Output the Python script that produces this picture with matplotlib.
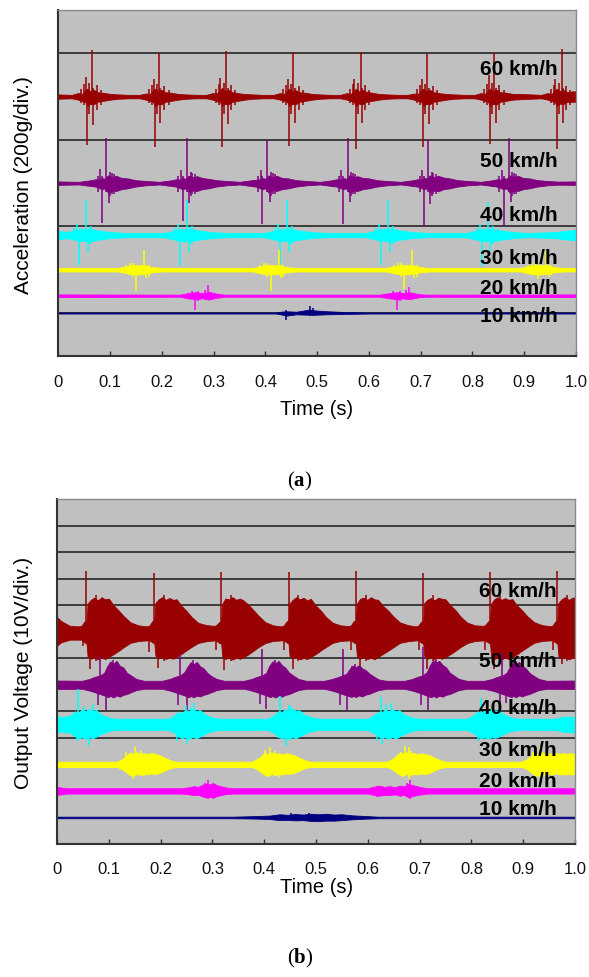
import matplotlib
matplotlib.use("Agg")
import matplotlib.pyplot as plt
import matplotlib.transforms as mtransforms
import numpy as np

plt.rcParams['font.family'] = ['Liberation Sans', 'DejaVu Sans']
plt.rcParams['mathtext.fontset'] = 'custom'
plt.rcParams['mathtext.rm'] = 'Liberation Serif'
plt.rcParams['mathtext.bf'] = 'Liberation Serif:bold'

# ---------------- shared text / ticks ----------------
TIME_TICKS = [0.0, 0.1, 0.2, 0.3, 0.4, 0.5, 0.6, 0.7, 0.8, 0.9, 1.0]
TIME_TICK_LABELS = ['0', '0.1', '0.2', '0.3', '0.4', '0.5', '0.6', '0.7', '0.8', '0.9', '1.0']
SPEED_LABELS = ['60 km/h', '50 km/h', '40 km/h', '30 km/h', '20 km/h', '10 km/h']
X_LABEL = 'Time (s)'
Y_LABEL_A = 'Acceleration (200g/div.)'
Y_LABEL_B = 'Output Voltage (10V/div.)'

# ---------------- panel (a): acceleration, values in divisions ----------------
# envelope keypoints: time, half-width above, half-width below; spikes: time, up, down
ACC_RED_T = [0.000,
             0.026, 0.038, 0.046, 0.052, 0.056, 0.062, 0.068, 0.076, 0.086, 0.101, 0.116, 0.136,
             0.157, 0.169, 0.177, 0.183, 0.187, 0.193, 0.199, 0.207, 0.217, 0.232, 0.247, 0.267,
             0.286, 0.298, 0.306, 0.312, 0.316, 0.322, 0.328, 0.336, 0.346, 0.361, 0.376, 0.396,
             0.416, 0.428, 0.436, 0.442, 0.446, 0.452, 0.458, 0.466, 0.476, 0.491, 0.506, 0.526,
             0.545, 0.557, 0.565, 0.571, 0.575, 0.581, 0.587, 0.595, 0.605, 0.620, 0.635, 0.655,
             0.675, 0.687, 0.695, 0.701, 0.705, 0.711, 0.717, 0.725, 0.735, 0.750, 0.765, 0.785,
             0.804, 0.816, 0.824, 0.830, 0.834, 0.840, 0.846, 0.854, 0.864, 0.879, 0.894, 0.914,
             0.933, 0.945, 0.953, 0.959, 0.963, 0.969, 0.975, 0.983, 0.993, 1.000]
ACC_RED_UP = [0.025,
              0.02, 0.04, 0.03, 0.07, 0.09, 0.06, 0.08, 0.05, 0.045, 0.03, 0.025, 0.02,
              0.02, 0.035, 0.03, 0.07, 0.09, 0.055, 0.08, 0.05, 0.045, 0.03, 0.025, 0.02,
              0.02, 0.04, 0.035, 0.07, 0.10, 0.06, 0.08, 0.05, 0.04, 0.03, 0.025, 0.02,
              0.02, 0.04, 0.03, 0.065, 0.09, 0.06, 0.075, 0.05, 0.045, 0.03, 0.025, 0.02,
              0.02, 0.04, 0.03, 0.07, 0.09, 0.06, 0.08, 0.055, 0.045, 0.03, 0.025, 0.02,
              0.02, 0.035, 0.03, 0.07, 0.09, 0.06, 0.08, 0.05, 0.04, 0.03, 0.025, 0.02,
              0.02, 0.04, 0.03, 0.07, 0.09, 0.06, 0.08, 0.05, 0.045, 0.03, 0.03, 0.025,
              0.02, 0.04, 0.03, 0.07, 0.09, 0.06, 0.08, 0.05, 0.06, 0.06]
ACC_RED_DN = [0.025,
              0.02, 0.035, 0.05, 0.06, 0.11, 0.08, 0.09, 0.06, 0.05, 0.035, 0.025, 0.02,
              0.02, 0.035, 0.05, 0.06, 0.11, 0.08, 0.09, 0.06, 0.05, 0.035, 0.025, 0.02,
              0.02, 0.035, 0.05, 0.06, 0.11, 0.08, 0.09, 0.06, 0.05, 0.035, 0.025, 0.02,
              0.02, 0.035, 0.05, 0.06, 0.11, 0.08, 0.09, 0.06, 0.05, 0.035, 0.025, 0.02,
              0.02, 0.035, 0.05, 0.06, 0.11, 0.08, 0.09, 0.06, 0.05, 0.035, 0.025, 0.02,
              0.02, 0.035, 0.05, 0.06, 0.11, 0.08, 0.09, 0.06, 0.05, 0.035, 0.025, 0.02,
              0.02, 0.035, 0.05, 0.06, 0.11, 0.08, 0.09, 0.06, 0.05, 0.035, 0.03, 0.025,
              0.02, 0.035, 0.05, 0.06, 0.11, 0.08, 0.09, 0.06, 0.06, 0.06]
ACC_RED_SPK_T = [0.044, 0.050, 0.053, 0.056, 0.060, 0.0645, 0.0675, 0.074, 0.082,
                 0.175, 0.181, 0.184, 0.187, 0.190, 0.194, 0.197, 0.205, 0.213,
                 0.304, 0.310, 0.313, 0.316, 0.320, 0.324, 0.327, 0.334, 0.342,
                 0.434, 0.440, 0.443, 0.446, 0.450, 0.454, 0.457, 0.464, 0.472,
                 0.563, 0.569, 0.572, 0.575, 0.579, 0.584, 0.587, 0.593, 0.601,
                 0.693, 0.699, 0.702, 0.705, 0.709, 0.713, 0.716, 0.723, 0.731,
                 0.822, 0.828, 0.831, 0.834, 0.838, 0.842, 0.845, 0.852, 0.860,
                 0.951, 0.957, 0.960, 0.963, 0.967, 0.972, 0.975, 0.981, 0.989]
ACC_RED_SPK_HI = [0.09, 0.14, 0.23, 0.08, 0.16, 0.54, 0.10, 0.13, 0.08,
                  0.09, 0.13, 0.20, 0.08, 0.15, 0.50, 0.10, 0.12, 0.08,
                  0.09, 0.14, 0.22, 0.08, 0.16, 0.53, 0.10, 0.13, 0.08,
                  0.09, 0.13, 0.20, 0.08, 0.15, 0.52, 0.10, 0.12, 0.08,
                  0.09, 0.14, 0.20, 0.08, 0.16, 0.51, 0.10, 0.13, 0.08,
                  0.09, 0.13, 0.20, 0.08, 0.15, 0.49, 0.10, 0.12, 0.08,
                  0.09, 0.14, 0.25, 0.08, 0.16, 0.50, 0.10, 0.13, 0.08,
                  0.09, 0.13, 0.20, 0.08, 0.16, 0.55, 0.10, 0.12, 0.08]
ACC_RED_SPK_LO = [0.07, 0.10, 0.06, 0.56, 0.20, 0.10, 0.33, 0.16, 0.10,
                  0.07, 0.10, 0.06, 0.58, 0.20, 0.10, 0.30, 0.16, 0.10,
                  0.07, 0.10, 0.06, 0.58, 0.20, 0.10, 0.32, 0.16, 0.10,
                  0.07, 0.10, 0.06, 0.57, 0.20, 0.10, 0.30, 0.16, 0.10,
                  0.07, 0.10, 0.06, 0.60, 0.20, 0.10, 0.30, 0.16, 0.10,
                  0.07, 0.10, 0.06, 0.58, 0.20, 0.10, 0.32, 0.16, 0.10,
                  0.07, 0.10, 0.06, 0.55, 0.20, 0.10, 0.30, 0.16, 0.10,
                  0.07, 0.10, 0.06, 0.60, 0.20, 0.10, 0.30, 0.16, 0.10]

ACC_PUR_T = [0.000,
             0.039, 0.059, 0.072, 0.080, 0.084, 0.090, 0.096, 0.104, 0.112, 0.122, 0.134, 0.149, 0.169, 0.189,
             0.195, 0.215, 0.228, 0.236, 0.240, 0.246, 0.252, 0.260, 0.268, 0.278, 0.290, 0.305, 0.325, 0.345,
             0.349, 0.369, 0.382, 0.390, 0.394, 0.400, 0.406, 0.414, 0.422, 0.432, 0.444, 0.459, 0.479, 0.499,
             0.505, 0.525, 0.538, 0.546, 0.550, 0.556, 0.562, 0.570, 0.578, 0.588, 0.600, 0.615, 0.635, 0.655,
             0.661, 0.681, 0.694, 0.702, 0.706, 0.712, 0.718, 0.726, 0.734, 0.744, 0.756, 0.771, 0.791, 0.811,
             0.815, 0.835, 0.848, 0.856, 0.860, 0.866, 0.872, 0.880, 0.888, 0.898, 0.910, 0.925, 0.945, 0.965,
             1.000]
ACC_PUR_UP = [0.02,
              0.015, 0.03, 0.045, 0.04, 0.06, 0.05, 0.09, 0.07, 0.085, 0.06, 0.055, 0.035, 0.025, 0.018,
              0.015, 0.03, 0.045, 0.04, 0.06, 0.05, 0.085, 0.07, 0.08, 0.06, 0.05, 0.035, 0.025, 0.018,
              0.015, 0.03, 0.04, 0.045, 0.06, 0.05, 0.09, 0.065, 0.085, 0.06, 0.055, 0.035, 0.025, 0.018,
              0.015, 0.03, 0.045, 0.04, 0.06, 0.05, 0.09, 0.07, 0.08, 0.06, 0.055, 0.035, 0.025, 0.018,
              0.015, 0.03, 0.045, 0.04, 0.06, 0.055, 0.09, 0.07, 0.085, 0.065, 0.055, 0.035, 0.025, 0.018,
              0.015, 0.03, 0.045, 0.04, 0.06, 0.05, 0.09, 0.07, 0.085, 0.06, 0.055, 0.035, 0.025, 0.018,
              0.02]
ACC_PUR_DN = [0.02,
              0.015, 0.03, 0.04, 0.06, 0.07, 0.06, 0.11, 0.085, 0.09, 0.07, 0.06, 0.04, 0.025, 0.018,
              0.015, 0.03, 0.04, 0.06, 0.07, 0.06, 0.10, 0.085, 0.09, 0.07, 0.06, 0.04, 0.025, 0.018,
              0.015, 0.03, 0.04, 0.06, 0.07, 0.06, 0.11, 0.08, 0.09, 0.07, 0.06, 0.04, 0.025, 0.018,
              0.015, 0.03, 0.04, 0.06, 0.07, 0.06, 0.11, 0.085, 0.09, 0.07, 0.06, 0.04, 0.025, 0.018,
              0.015, 0.03, 0.04, 0.06, 0.07, 0.06, 0.11, 0.085, 0.095, 0.07, 0.06, 0.04, 0.025, 0.018,
              0.015, 0.03, 0.04, 0.06, 0.07, 0.06, 0.11, 0.085, 0.09, 0.07, 0.06, 0.04, 0.025, 0.018,
              0.02]
ACC_PUR_SPK_T = [0.076, 0.081, 0.084, 0.093, 0.097, 0.100, 0.103, 0.108,
                 0.232, 0.237, 0.240, 0.248, 0.252, 0.256, 0.258, 0.264,
                 0.386, 0.391, 0.394, 0.404, 0.408, 0.410, 0.414, 0.418,
                 0.542, 0.547, 0.550, 0.560, 0.564, 0.566, 0.570, 0.574,
                 0.698, 0.703, 0.706, 0.714, 0.718, 0.722, 0.724, 0.730,
                 0.852, 0.857, 0.860, 0.870, 0.874, 0.876, 0.880, 0.884]
ACC_PUR_SPK_HI = [0.08, 0.16, 0.08, 0.52, 0.08, 0.13, 0.12, 0.10,
                  0.08, 0.15, 0.08, 0.52, 0.08, 0.13, 0.12, 0.10,
                  0.08, 0.15, 0.08, 0.50, 0.08, 0.13, 0.12, 0.10,
                  0.08, 0.15, 0.08, 0.52, 0.08, 0.13, 0.12, 0.10,
                  0.08, 0.15, 0.08, 0.51, 0.08, 0.13, 0.12, 0.10,
                  0.08, 0.15, 0.08, 0.52, 0.08, 0.13, 0.12, 0.10]
ACC_PUR_SPK_LO = [0.10, 0.05, 0.46, 0.10, 0.23, 0.15, 0.12, 0.12,
                  0.10, 0.05, 0.44, 0.10, 0.23, 0.15, 0.12, 0.12,
                  0.10, 0.05, 0.47, 0.10, 0.22, 0.15, 0.12, 0.12,
                  0.10, 0.05, 0.47, 0.10, 0.22, 0.15, 0.12, 0.12,
                  0.10, 0.05, 0.49, 0.10, 0.24, 0.15, 0.12, 0.12,
                  0.10, 0.05, 0.49, 0.10, 0.22, 0.15, 0.12, 0.12]

ACC_CYA_T = [0.000, 0.015, 0.0285, 0.0405, 0.0555, 0.0755, 0.1005, 0.130,
             0.205, 0.223, 0.235, 0.250, 0.270, 0.295, 0.325,
             0.398, 0.416, 0.428, 0.443, 0.463, 0.488, 0.518,
             0.594, 0.612, 0.624, 0.639, 0.659, 0.684, 0.714,
             0.7885, 0.8065, 0.8185, 0.8335, 0.8535, 0.8785, 0.9085,
             0.960, 0.980, 1.000]
ACC_CYA_UP = [0.05, 0.035, 0.05, 0.07, 0.07, 0.055, 0.035, 0.025,
              0.025, 0.05, 0.07, 0.07, 0.055, 0.035, 0.025,
              0.025, 0.05, 0.07, 0.07, 0.055, 0.035, 0.025,
              0.025, 0.05, 0.07, 0.07, 0.055, 0.035, 0.025,
              0.025, 0.05, 0.07, 0.07, 0.055, 0.035, 0.025,
              0.035, 0.05, 0.06]
ACC_CYA_DN = [0.05, 0.035, 0.05, 0.07, 0.07, 0.055, 0.035, 0.025,
              0.025, 0.05, 0.07, 0.07, 0.055, 0.035, 0.025,
              0.025, 0.05, 0.07, 0.07, 0.055, 0.035, 0.025,
              0.025, 0.05, 0.07, 0.07, 0.055, 0.035, 0.025,
              0.025, 0.05, 0.07, 0.07, 0.055, 0.035, 0.025,
              0.035, 0.05, 0.06]
ACC_CYA_SPK_T = [0.0305, 0.0365, 0.0405, 0.053, 0.057, 0.063, 0.0605, 0.0685,
                 0.225, 0.231, 0.235, 0.248, 0.252, 0.258, 0.255, 0.263,
                 0.418, 0.424, 0.428, 0.4415, 0.4455, 0.4515, 0.448, 0.456,
                 0.614, 0.620, 0.624, 0.637, 0.641, 0.647, 0.644, 0.652,
                 0.8085, 0.8145, 0.8185, 0.830, 0.834, 0.840, 0.8385, 0.8465]
ACC_CYA_SPK_HI = [0.08, 0.13, 0.05, 0.40, 0.05, 0.10, 0.09, 0.07,
                  0.08, 0.13, 0.05, 0.40, 0.05, 0.10, 0.09, 0.07,
                  0.08, 0.13, 0.05, 0.41, 0.05, 0.10, 0.09, 0.07,
                  0.08, 0.13, 0.05, 0.40, 0.05, 0.10, 0.09, 0.07,
                  0.08, 0.13, 0.05, 0.38, 0.05, 0.10, 0.09, 0.07]
ACC_CYA_SPK_LO = [0.06, 0.04, 0.35, 0.06, 0.19, 0.10, 0.10, 0.08,
                  0.06, 0.04, 0.36, 0.06, 0.19, 0.10, 0.10, 0.08,
                  0.06, 0.04, 0.35, 0.06, 0.19, 0.10, 0.10, 0.08,
                  0.06, 0.04, 0.35, 0.06, 0.19, 0.10, 0.10, 0.08,
                  0.06, 0.04, 0.36, 0.06, 0.20, 0.10, 0.10, 0.08]

ACC_YEL_T = [0.000, 0.116, 0.136, 0.151, 0.166, 0.181, 0.201,
             0.375, 0.395, 0.410, 0.425, 0.440, 0.460,
             0.633, 0.653, 0.668, 0.683, 0.698, 0.718,
             0.892, 0.912, 0.927, 0.942, 0.957, 0.977, 1.000]
ACC_YEL_UP = [0.02, 0.02, 0.045, 0.055, 0.05, 0.03, 0.02,
              0.02, 0.045, 0.055, 0.05, 0.03, 0.02,
              0.02, 0.045, 0.055, 0.05, 0.03, 0.02,
              0.02, 0.045, 0.055, 0.05, 0.03, 0.02, 0.02]
ACC_YEL_DN = [0.02, 0.02, 0.045, 0.055, 0.05, 0.03, 0.02,
              0.02, 0.045, 0.055, 0.05, 0.03, 0.02,
              0.02, 0.045, 0.055, 0.05, 0.03, 0.02,
              0.02, 0.045, 0.055, 0.05, 0.03, 0.02, 0.02]
ACC_YEL_SPK_T = [0.131, 0.139, 0.145, 0.151, 0.166, 0.170, 0.175,
                 0.390, 0.398, 0.404, 0.410, 0.426, 0.430, 0.434,
                 0.648, 0.656, 0.662, 0.668, 0.684, 0.688, 0.692,
                 0.907, 0.915, 0.921, 0.927, 0.943, 0.947, 0.951]
ACC_YEL_SPK_HI = [0.06, 0.08, 0.08, 0.04, 0.23, 0.06, 0.06,
                  0.06, 0.08, 0.08, 0.04, 0.23, 0.06, 0.06,
                  0.06, 0.08, 0.08, 0.04, 0.23, 0.06, 0.06,
                  0.06, 0.08, 0.08, 0.04, 0.22, 0.06, 0.06]
ACC_YEL_SPK_LO = [0.05, 0.06, 0.08, 0.25, 0.04, 0.10, 0.08,
                  0.05, 0.06, 0.08, 0.25, 0.04, 0.10, 0.08,
                  0.05, 0.06, 0.08, 0.22, 0.04, 0.10, 0.08,
                  0.05, 0.06, 0.06, 0.11, 0.04, 0.08, 0.06]

ACC_MAG_T = [0.000, 0.235, 0.250, 0.265, 0.280, 0.290, 0.305, 0.320,
             0.620, 0.640, 0.654, 0.668, 0.678, 0.695, 0.710, 1.000]
ACC_MAG_UP = [0.015, 0.012, 0.03, 0.04, 0.03, 0.045, 0.025, 0.012,
              0.012, 0.03, 0.04, 0.03, 0.04, 0.02, 0.012, 0.015]
ACC_MAG_DN = [0.015, 0.012, 0.03, 0.04, 0.03, 0.045, 0.025, 0.012,
              0.012, 0.03, 0.04, 0.03, 0.04, 0.02, 0.012, 0.015]
ACC_MAG_SPK_T = [0.258, 0.265, 0.270, 0.284, 0.2897, 0.647, 0.654, 0.660, 0.672, 0.678]
ACC_MAG_SPK_HI = [0.05, 0.02, 0.05, 0.07, 0.125, 0.05, 0.02, 0.05, 0.07, 0.10]
ACC_MAG_SPK_LO = [0.04, 0.16, 0.06, 0.05, 0.04, 0.04, 0.16, 0.06, 0.05, 0.04]

ACC_NAV_T = [0.000, 0.420, 0.430, 0.440, 0.460, 0.485, 0.495, 0.520, 0.560, 0.600, 1.000]
ACC_NAV_UP = [0.006, 0.006, 0.015, 0.02, 0.015, 0.04, 0.03, 0.02, 0.01, 0.006, 0.006]
ACC_NAV_DN = [0.006, 0.006, 0.015, 0.03, 0.015, 0.02, 0.02, 0.015, 0.01, 0.006, 0.006]
ACC_NAV_SPK_T = [0.440, 0.487, 0.492]
ACC_NAV_SPK_HI = [0.04, 0.085, 0.06]
ACC_NAV_SPK_LO = [0.08, 0.03, 0.03]

# ---------------- panel (b): output voltage, values in divisions ----------------
VOL_RED_T = [0.000, 0.008, 0.025, 0.040,
             0.047, 0.053, 0.057, 0.059, 0.065, 0.072, 0.079, 0.086, 0.093, 0.100, 0.109, 0.119, 0.129, 0.142, 0.157, 0.172,
             0.178, 0.184, 0.188, 0.190, 0.196, 0.203, 0.210, 0.217, 0.224, 0.231, 0.240, 0.250, 0.260, 0.273, 0.288, 0.303,
             0.307, 0.313, 0.317, 0.319, 0.325, 0.332, 0.339, 0.346, 0.353, 0.360, 0.369, 0.379, 0.389, 0.402, 0.417, 0.432,
             0.437, 0.443, 0.447, 0.449, 0.455, 0.462, 0.469, 0.476, 0.483, 0.490, 0.499, 0.509, 0.519, 0.532, 0.547, 0.562,
             0.567, 0.573, 0.577, 0.579, 0.585, 0.592, 0.599, 0.606, 0.613, 0.620, 0.629, 0.639, 0.649, 0.662, 0.677, 0.692,
             0.697, 0.703, 0.707, 0.709, 0.715, 0.722, 0.729, 0.736, 0.743, 0.750, 0.759, 0.769, 0.779, 0.792, 0.807, 0.822,
             0.826, 0.832, 0.836, 0.838, 0.844, 0.851, 0.858, 0.865, 0.872, 0.879, 0.888, 0.898, 0.908, 0.921, 0.936, 0.951,
             0.956, 0.962, 0.966, 0.968, 0.974, 0.981, 0.988, 0.995, 1.000]
VOL_RED_UP = [0.55, 0.40, 0.22, 0.20,
              0.22, 0.38, 0.42, 1.05, 1.20, 1.28, 1.18, 1.30, 1.22, 1.25, 1.00, 0.80, 0.58, 0.35, 0.24, 0.20,
              0.22, 0.40, 0.42, 1.08, 1.22, 1.30, 1.20, 1.27, 1.20, 1.22, 0.98, 0.78, 0.55, 0.33, 0.25, 0.22,
              0.24, 0.36, 0.40, 1.05, 1.25, 1.22, 1.30, 1.20, 1.25, 1.18, 1.02, 0.82, 0.60, 0.36, 0.24, 0.20,
              0.22, 0.38, 0.42, 1.06, 1.20, 1.30, 1.22, 1.28, 1.18, 1.24, 1.00, 0.80, 0.56, 0.34, 0.24, 0.21,
              0.23, 0.40, 0.42, 1.05, 1.24, 1.28, 1.20, 1.30, 1.22, 1.20, 0.98, 0.80, 0.58, 0.35, 0.25, 0.20,
              0.22, 0.38, 0.40, 1.08, 1.20, 1.27, 1.18, 1.28, 1.24, 1.22, 1.00, 0.82, 0.57, 0.34, 0.24, 0.22,
              0.24, 0.38, 0.42, 1.05, 1.22, 1.30, 1.20, 1.26, 1.20, 1.23, 0.99, 0.80, 0.58, 0.36, 0.25, 0.21,
              0.22, 0.38, 0.42, 1.08, 1.22, 1.30, 1.20, 1.28, 1.30]
VOL_RED_DN = [0.53, 0.40, 0.30, 0.30,
              0.30, 0.40, 0.45, 0.92, 1.02, 0.96, 1.04, 0.98, 1.03, 0.95, 0.85, 0.72, 0.58, 0.42, 0.35, 0.33,
              0.32, 0.40, 0.45, 0.90, 1.00, 0.95, 1.03, 0.97, 1.02, 0.94, 0.84, 0.70, 0.57, 0.42, 0.36, 0.33,
              0.33, 0.42, 0.45, 0.92, 1.03, 0.97, 1.05, 0.98, 1.02, 0.96, 0.86, 0.72, 0.58, 0.43, 0.35, 0.33,
              0.32, 0.40, 0.45, 0.92, 1.01, 0.96, 1.04, 0.99, 1.03, 0.95, 0.85, 0.71, 0.58, 0.42, 0.35, 0.33,
              0.33, 0.40, 0.46, 0.93, 1.02, 0.95, 1.03, 0.98, 1.04, 0.95, 0.84, 0.72, 0.59, 0.42, 0.36, 0.33,
              0.32, 0.41, 0.45, 0.91, 1.02, 0.96, 1.04, 0.97, 1.02, 0.96, 0.85, 0.72, 0.58, 0.43, 0.35, 0.33,
              0.33, 0.40, 0.45, 0.92, 1.03, 0.97, 1.04, 0.98, 1.03, 0.95, 0.85, 0.71, 0.58, 0.42, 0.35, 0.33,
              0.32, 0.40, 0.45, 0.92, 1.02, 0.96, 1.04, 0.98, 1.00]
VOL_RED_SPK_T = [0.050, 0.0566, 0.064, 0.075,
                 0.178, 0.188, 0.195, 0.206,
                 0.307, 0.3166, 0.323, 0.335,
                 0.438, 0.447, 0.455, 0.466,
                 0.568, 0.577, 0.585, 0.596,
                 0.698, 0.707, 0.715, 0.726,
                 0.827, 0.836, 0.844, 0.855,
                 0.957, 0.966, 0.974, 0.985]
VOL_RED_SPK_HI = [0.20, 2.29, 0.30, 1.38,
                  0.20, 2.23, 0.30, 1.38,
                  0.20, 2.26, 0.30, 1.38,
                  0.20, 2.26, 0.30, 1.38,
                  0.20, 2.29, 0.30, 1.38,
                  0.20, 2.23, 0.30, 1.38,
                  0.20, 2.26, 0.30, 1.38,
                  0.20, 2.29, 0.30, 1.38]
VOL_RED_SPK_LO = [0.53, 0.30, 1.40, 1.10,
                  0.77, 0.30, 1.37, 1.10,
                  0.70, 0.30, 1.45, 1.10,
                  0.70, 0.30, 1.40, 1.10,
                  0.70, 0.30, 1.40, 1.10,
                  0.70, 0.30, 1.40, 1.10,
                  0.70, 0.30, 1.40, 1.10,
                  0.70, 0.30, 1.20, 1.10]

VOL_PUR_T = [0.000,
             0.048, 0.063, 0.073, 0.083, 0.091, 0.097, 0.103, 0.109, 0.115, 0.121, 0.128, 0.135, 0.143, 0.153, 0.168,
             0.203, 0.218, 0.228, 0.238, 0.246, 0.252, 0.258, 0.264, 0.270, 0.276, 0.283, 0.290, 0.298, 0.308, 0.323,
             0.361, 0.376, 0.386, 0.396, 0.404, 0.410, 0.416, 0.422, 0.428, 0.434, 0.441, 0.448, 0.456, 0.466, 0.481,
             0.516, 0.531, 0.541, 0.551, 0.559, 0.565, 0.571, 0.577, 0.583, 0.589, 0.596, 0.603, 0.611, 0.621, 0.636,
             0.671, 0.686, 0.696, 0.706, 0.714, 0.720, 0.726, 0.732, 0.738, 0.744, 0.751, 0.758, 0.766, 0.776, 0.791,
             0.825, 0.840, 0.850, 0.860, 0.868, 0.874, 0.880, 0.886, 0.892, 0.898, 0.905, 0.912, 0.920, 0.930, 0.945,
             1.000]
VOL_PUR_UP = [0.16,
              0.15, 0.22, 0.30, 0.35, 0.45, 0.70, 0.88, 0.80, 0.90, 0.72, 0.65, 0.45, 0.35, 0.22, 0.15,
              0.15, 0.22, 0.30, 0.35, 0.48, 0.68, 0.85, 0.78, 0.86, 0.70, 0.62, 0.45, 0.33, 0.22, 0.15,
              0.15, 0.22, 0.30, 0.35, 0.45, 0.72, 0.88, 0.82, 0.90, 0.74, 0.64, 0.46, 0.35, 0.22, 0.15,
              0.15, 0.22, 0.28, 0.35, 0.42, 0.60, 0.72, 0.66, 0.74, 0.62, 0.55, 0.42, 0.32, 0.20, 0.15,
              0.15, 0.22, 0.30, 0.35, 0.48, 0.74, 0.92, 0.84, 0.90, 0.75, 0.66, 0.46, 0.35, 0.22, 0.15,
              0.15, 0.22, 0.30, 0.35, 0.45, 0.68, 0.84, 0.78, 0.86, 0.72, 0.62, 0.45, 0.34, 0.22, 0.15,
              0.16]
VOL_PUR_DN = [0.16,
              0.15, 0.22, 0.28, 0.35, 0.40, 0.45, 0.42, 0.48, 0.40, 0.45, 0.38, 0.35, 0.28, 0.20, 0.15,
              0.15, 0.22, 0.28, 0.35, 0.40, 0.46, 0.42, 0.47, 0.41, 0.44, 0.38, 0.34, 0.28, 0.20, 0.15,
              0.15, 0.22, 0.28, 0.35, 0.40, 0.45, 0.43, 0.48, 0.40, 0.45, 0.38, 0.35, 0.28, 0.20, 0.15,
              0.15, 0.22, 0.28, 0.35, 0.40, 0.44, 0.42, 0.46, 0.40, 0.44, 0.37, 0.34, 0.27, 0.20, 0.15,
              0.15, 0.22, 0.28, 0.35, 0.41, 0.46, 0.42, 0.48, 0.41, 0.45, 0.38, 0.35, 0.28, 0.20, 0.15,
              0.15, 0.22, 0.28, 0.35, 0.40, 0.45, 0.42, 0.47, 0.40, 0.44, 0.38, 0.35, 0.28, 0.20, 0.15,
              0.16]
VOL_PUR_SPK_T = [0.079, 0.083, 0.0946, 0.101, 0.108,
                 0.2335, 0.2375, 0.251, 0.256, 0.263,
                 0.392, 0.3964, 0.403, 0.414, 0.421,
                 0.547, 0.5514, 0.5605, 0.569, 0.576,
                 0.702, 0.706, 0.716, 0.724, 0.731,
                 0.856, 0.860, 0.8675, 0.878, 0.885]
VOL_PUR_SPK_HI = [0.20, 1.10, 0.30, 0.70, 0.95,
                  0.20, 1.17, 0.30, 0.70, 0.95,
                  0.20, 1.33, 0.30, 0.70, 0.95,
                  0.20, 1.33, 0.30, 0.70, 0.80,
                  0.20, 1.41, 0.30, 0.70, 0.95,
                  0.20, 1.20, 0.30, 0.70, 0.90]
VOL_PUR_SPK_LO = [0.78, 0.30, 0.96, 0.50, 0.40,
                  0.78, 0.30, 0.96, 0.50, 0.40,
                  0.72, 0.30, 0.90, 0.50, 0.40,
                  0.78, 0.30, 0.96, 0.50, 0.40,
                  0.78, 0.30, 0.96, 0.50, 0.40,
                  0.78, 0.30, 0.70, 0.50, 0.40]

VOL_CYA_T = [0.000, 0.008,
             0.015, 0.027, 0.035, 0.041, 0.048, 0.055, 0.062, 0.069, 0.076, 0.083, 0.091, 0.101, 0.115,
             0.215, 0.227, 0.235, 0.241, 0.248, 0.255, 0.262, 0.269, 0.276, 0.283, 0.291, 0.301, 0.315,
             0.407, 0.419, 0.427, 0.433, 0.440, 0.447, 0.454, 0.461, 0.468, 0.475, 0.483, 0.493, 0.507,
             0.600, 0.612, 0.620, 0.626, 0.633, 0.640, 0.647, 0.654, 0.661, 0.668, 0.676, 0.686, 0.700,
             0.792, 0.804, 0.812, 0.818, 0.825, 0.832, 0.839, 0.846, 0.853, 0.860, 0.868, 0.878, 0.892,
             0.960, 0.980, 1.000]
VOL_CYA_UP = [0.34, 0.28,
              0.30, 0.35, 0.50, 0.42, 0.58, 0.50, 0.60, 0.52, 0.55, 0.40, 0.33, 0.26, 0.22,
              0.22, 0.35, 0.48, 0.42, 0.56, 0.50, 0.60, 0.50, 0.55, 0.42, 0.33, 0.26, 0.22,
              0.22, 0.35, 0.50, 0.44, 0.58, 0.52, 0.60, 0.52, 0.54, 0.40, 0.33, 0.26, 0.22,
              0.22, 0.35, 0.48, 0.42, 0.58, 0.50, 0.58, 0.50, 0.55, 0.40, 0.33, 0.26, 0.22,
              0.22, 0.35, 0.50, 0.42, 0.56, 0.50, 0.60, 0.52, 0.54, 0.40, 0.33, 0.26, 0.22,
              0.22, 0.30, 0.30]
VOL_CYA_DN = [0.30, 0.26,
              0.28, 0.32, 0.45, 0.52, 0.48, 0.55, 0.47, 0.52, 0.45, 0.38, 0.30, 0.24, 0.20,
              0.20, 0.32, 0.45, 0.52, 0.47, 0.55, 0.46, 0.52, 0.45, 0.38, 0.30, 0.24, 0.20,
              0.20, 0.32, 0.45, 0.52, 0.48, 0.56, 0.47, 0.52, 0.44, 0.38, 0.30, 0.24, 0.20,
              0.20, 0.32, 0.44, 0.52, 0.47, 0.55, 0.47, 0.52, 0.45, 0.38, 0.30, 0.24, 0.20,
              0.20, 0.32, 0.45, 0.52, 0.48, 0.54, 0.47, 0.50, 0.45, 0.38, 0.30, 0.24, 0.20,
              0.20, 0.28, 0.30]
VOL_CYA_SPK_T = [0.038, 0.041, 0.052, 0.061, 0.070,
                 0.2317, 0.2494, 0.2516, 0.258, 0.2642,
                 0.427, 0.4305, 0.443, 0.447, 0.452,
                 0.617, 0.625, 0.628, 0.636, 0.645,
                 0.812, 0.8186, 0.823, 0.830, 0.840]
VOL_CYA_SPK_HI = [0.20, 1.34, 0.70, 0.30, 0.78,
                  0.20, 0.75, 0.30, 0.65, 0.80,
                  0.20, 1.08, 0.30, 0.75, 0.70,
                  0.20, 1.03, 0.30, 0.78, 0.80,
                  0.20, 1.00, 0.30, 0.70, 0.60]
VOL_CYA_SPK_LO = [0.60, 0.30, 0.50, 0.79, 0.30,
                  0.60, 0.30, 0.72, 0.50, 0.30,
                  0.50, 0.30, 0.79, 0.30, 0.40,
                  0.60, 0.30, 0.72, 0.30, 0.40,
                  0.60, 0.30, 0.50, 0.30, 0.40]

VOL_YEL_T = [0.000,
             0.116, 0.126, 0.134, 0.141, 0.147, 0.154, 0.161, 0.168, 0.175, 0.182, 0.189, 0.196, 0.203, 0.211, 0.221, 0.231,
             0.376, 0.386, 0.394, 0.401, 0.407, 0.414, 0.421, 0.428, 0.435, 0.442, 0.449, 0.456, 0.463, 0.471, 0.481, 0.491,
             0.637, 0.647, 0.655, 0.662, 0.668, 0.675, 0.682, 0.689, 0.696, 0.703, 0.710, 0.717, 0.724, 0.732, 0.742, 0.752,
             0.897, 0.907, 0.915, 0.922, 0.928, 0.935, 0.942, 0.949, 0.956, 0.963, 0.970, 0.977, 0.984, 0.992, 1.000]
VOL_YEL_UP = [0.10,
              0.10, 0.20, 0.32, 0.45, 0.38, 0.46, 0.40, 0.42, 0.38, 0.43, 0.40, 0.36, 0.30, 0.22, 0.14, 0.10,
              0.10, 0.20, 0.30, 0.44, 0.38, 0.45, 0.40, 0.42, 0.37, 0.42, 0.40, 0.35, 0.30, 0.22, 0.14, 0.10,
              0.10, 0.20, 0.32, 0.45, 0.40, 0.46, 0.40, 0.43, 0.38, 0.42, 0.39, 0.36, 0.30, 0.22, 0.14, 0.10,
              0.10, 0.20, 0.32, 0.45, 0.38, 0.46, 0.40, 0.42, 0.38, 0.43, 0.40, 0.42, 0.40, 0.42, 0.40]
VOL_YEL_DN = [0.10,
              0.10, 0.18, 0.30, 0.40, 0.44, 0.36, 0.40, 0.35, 0.38, 0.34, 0.37, 0.33, 0.28, 0.20, 0.13, 0.10,
              0.10, 0.18, 0.30, 0.40, 0.44, 0.36, 0.40, 0.36, 0.38, 0.34, 0.36, 0.33, 0.28, 0.20, 0.13, 0.10,
              0.10, 0.18, 0.30, 0.40, 0.43, 0.36, 0.40, 0.35, 0.38, 0.34, 0.37, 0.33, 0.28, 0.20, 0.13, 0.10,
              0.10, 0.18, 0.30, 0.40, 0.44, 0.36, 0.40, 0.35, 0.38, 0.34, 0.37, 0.38, 0.36, 0.38, 0.36]
VOL_YEL_SPK_T = [0.133, 0.147, 0.151, 0.163, 0.168,
                 0.401, 0.411, 0.420, 0.428, 0.435,
                 0.664, 0.672, 0.680, 0.684, 0.690,
                 0.918, 0.924, 0.932, 0.944, 0.950]
VOL_YEL_SPK_HI = [0.47, 0.20, 0.65, 0.50, 0.30,
                  0.55, 0.65, 0.50, 0.20, 0.30,
                  0.45, 0.71, 0.65, 0.50, 0.30,
                  0.45, 0.30, 0.65, 0.50, 0.30]
VOL_YEL_SPK_LO = [0.20, 0.54, 0.20, 0.30, 0.45,
                  0.20, 0.20, 0.30, 0.46, 0.40,
                  0.20, 0.20, 0.54, 0.30, 0.40,
                  0.20, 0.45, 0.20, 0.30, 0.40]

VOL_MAG_T = [0.000, 0.020, 0.240, 0.255, 0.265, 0.272, 0.280, 0.287, 0.294, 0.301, 0.308, 0.316, 0.326, 0.340,
             0.600, 0.612, 0.622, 0.632, 0.642, 0.652, 0.662, 0.670, 0.678, 0.686, 0.694, 0.703, 0.715, 1.000]
VOL_MAG_UP = [0.15, 0.10, 0.10, 0.14, 0.18, 0.15, 0.22, 0.28, 0.24, 0.30, 0.22, 0.18, 0.13, 0.10,
              0.10, 0.16, 0.20, 0.15, 0.18, 0.14, 0.20, 0.17, 0.26, 0.22, 0.18, 0.14, 0.10, 0.10]
VOL_MAG_DN = [0.15, 0.10, 0.10, 0.13, 0.16, 0.14, 0.20, 0.24, 0.22, 0.26, 0.20, 0.16, 0.12, 0.10,
              0.10, 0.15, 0.18, 0.15, 0.16, 0.13, 0.18, 0.15, 0.24, 0.20, 0.16, 0.13, 0.10, 0.10]
VOL_MAG_SPK_T = [0.285, 0.292, 0.617, 0.675, 0.681]
VOL_MAG_SPK_HI = [0.30, 0.40, 0.20, 0.30, 0.40]
VOL_MAG_SPK_LO = [0.25, 0.31, 0.24, 0.20, 0.31]

VOL_NAV_T = [0.000, 0.340, 0.380, 0.410, 0.430, 0.445, 0.460, 0.475, 0.490, 0.505, 0.520, 0.535, 0.550,
             0.570, 0.590, 0.620, 1.000]
VOL_NAV_UP = [0.03, 0.03, 0.05, 0.07, 0.12, 0.10, 0.13, 0.11, 0.14, 0.12, 0.14, 0.11, 0.12,
              0.08, 0.06, 0.03, 0.03]
VOL_NAV_DN = [0.03, 0.03, 0.04, 0.06, 0.10, 0.09, 0.11, 0.10, 0.13, 0.14, 0.12, 0.12, 0.10,
              0.07, 0.05, 0.03, 0.03]
VOL_NAV_SPK_T = [0.452, 0.487]
VOL_NAV_SPK_HI = [0.18, 0.17]
VOL_NAV_SPK_LO = [0.10, 0.12]

# ---------------- styles / layout ----------------
TRACE_COLORS = ['#990000', '#800080', '#00ffff', '#ffff00', '#ff00ff', '#000080']
A_BASES = [3.0, 2.0, 1.4, 1.0, 0.7, 0.5]
B_BASES = [8.0, 6.0, 4.5, 3.0, 2.0, 1.0]
A_LABEL_Y = [3.35, 2.29, 1.66, 1.17, 0.82, 0.50]
B_LABEL_Y = [9.62, 6.99, 5.23, 3.65, 2.48, 1.43]
A_GRID = [0.5, 1.5, 2.5, 3.5]
B_GRID = [4, 5, 6, 7, 8, 9, 10, 11, 12]
LABEL_X = 0.815

W, H = 589, 978
fig = plt.figure(figsize=(W / 100, H / 100), dpi=100)
fig.patch.set_facecolor('white')

axA = fig.add_axes([58.3 / W, 1 - 357.3 / H, (576 - 58.3) / W, 346.3 / H])
axB = fig.add_axes([57.0 / W, 1 - 845.0 / H, 518.0 / W, 345.0 / H])


def style_axes(ax, ylim, grid, pad):
    ax.set_facecolor('#c0c0c0')
    ax.set_xlim(0, 1)
    ax.set_ylim(*ylim)
    for g in grid:
        ax.axhline(g, color='#262626', lw=1.2, zorder=1)
    ax.set_yticks([])
    ax.set_xticks(TIME_TICKS)
    ax.set_xticklabels(TIME_TICK_LABELS)
    ax.tick_params(axis='x', direction='in', length=3.5, width=1.0, color='#333333',
                   pad=pad, labelsize=12, labelcolor='#111111')
    for s in ('left', 'bottom'):
        ax.spines[s].set_color('#333333')
        ax.spines[s].set_linewidth(1.5)
    for s in ('top', 'right'):
        ax.spines[s].set_color('#8a8a8a')
        ax.spines[s].set_linewidth(1.0)


def draw_trace(ax, base, t, up, dn, st, shi, slo, color):
    t = np.asarray(t, float)
    up = np.asarray(up, float)
    dn = np.asarray(dn, float)
    ax.fill_between(t, base + up, base - dn, color=color, lw=0.6, zorder=2)
    ax.vlines(np.asarray(st, float), base - np.asarray(slo, float), base + np.asarray(shi, float),
              color=color, lw=1.1, zorder=2)


style_axes(axA, (0, 4), A_GRID, 13)
style_axes(axB, (0, 13), B_GRID, 12)

a_traces = [
    (ACC_RED_T, ACC_RED_UP, ACC_RED_DN, ACC_RED_SPK_T, ACC_RED_SPK_HI, ACC_RED_SPK_LO),
    (ACC_PUR_T, ACC_PUR_UP, ACC_PUR_DN, ACC_PUR_SPK_T, ACC_PUR_SPK_HI, ACC_PUR_SPK_LO),
    (ACC_CYA_T, ACC_CYA_UP, ACC_CYA_DN, ACC_CYA_SPK_T, ACC_CYA_SPK_HI, ACC_CYA_SPK_LO),
    (ACC_YEL_T, ACC_YEL_UP, ACC_YEL_DN, ACC_YEL_SPK_T, ACC_YEL_SPK_HI, ACC_YEL_SPK_LO),
    (ACC_MAG_T, ACC_MAG_UP, ACC_MAG_DN, ACC_MAG_SPK_T, ACC_MAG_SPK_HI, ACC_MAG_SPK_LO),
    (ACC_NAV_T, ACC_NAV_UP, ACC_NAV_DN, ACC_NAV_SPK_T, ACC_NAV_SPK_HI, ACC_NAV_SPK_LO),
]
b_traces = [
    (VOL_RED_T, VOL_RED_UP, VOL_RED_DN, VOL_RED_SPK_T, VOL_RED_SPK_HI, VOL_RED_SPK_LO),
    (VOL_PUR_T, VOL_PUR_UP, VOL_PUR_DN, VOL_PUR_SPK_T, VOL_PUR_SPK_HI, VOL_PUR_SPK_LO),
    (VOL_CYA_T, VOL_CYA_UP, VOL_CYA_DN, VOL_CYA_SPK_T, VOL_CYA_SPK_HI, VOL_CYA_SPK_LO),
    (VOL_YEL_T, VOL_YEL_UP, VOL_YEL_DN, VOL_YEL_SPK_T, VOL_YEL_SPK_HI, VOL_YEL_SPK_LO),
    (VOL_MAG_T, VOL_MAG_UP, VOL_MAG_DN, VOL_MAG_SPK_T, VOL_MAG_SPK_HI, VOL_MAG_SPK_LO),
    (VOL_NAV_T, VOL_NAV_UP, VOL_NAV_DN, VOL_NAV_SPK_T, VOL_NAV_SPK_HI, VOL_NAV_SPK_LO),
]

for ax, traces, bases, label_y in ((axA, a_traces, A_BASES, A_LABEL_Y),
                                   (axB, b_traces, B_BASES, B_LABEL_Y)):
    for tr, base, color in zip(traces, bases, TRACE_COLORS):
        draw_trace(ax, base, *tr, color)
    shift = mtransforms.offset_copy(ax.transData, fig=fig, y=-5.4, units='points')
    for lab, ly in zip(SPEED_LABELS, label_y):
        ax.text(LABEL_X, ly, lab, transform=shift, ha='left', va='baseline',
                fontsize=15, fontweight='bold', color='black', zorder=5)

# axis titles
fig.text(317 / W, 1 - 410 / H, X_LABEL, ha='center', va='center', fontsize=14.5)
fig.text(317 / W, 1 - 888 / H, X_LABEL, ha='center', va='center', fontsize=14.5)
fig.text(24 / W, 1 - 185 / H, Y_LABEL_A, ha='center', va='center', rotation=90, fontsize=15)
fig.text(24 / W, 1 - 673 / H, Y_LABEL_B, ha='center', va='center', rotation=90, fontsize=15)

# panel captions
fig.text(300 / W, 1 - 481 / H, r'($\mathbf{a}$)', ha='center', va='center',
         fontsize=15, family='Liberation Serif')
fig.text(300 / W, 1 - 958 / H, r'($\mathbf{b}$)', ha='center', va='center',
         fontsize=15, family='Liberation Serif')

fig.savefig('out.png', dpi=100, facecolor='white')
